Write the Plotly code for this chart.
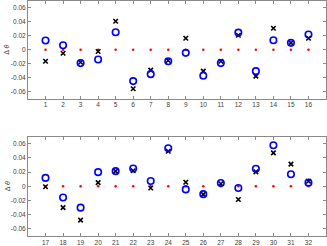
import plotly.graph_objects as go

idx_top = list(range(1, 17))
idx_bot = list(range(17, 33))

blue_top = [0.0133, 0.0066, -0.019, -0.0139, 0.0252, -0.0448, -0.0348, -0.0163,
            -0.0043, -0.0371, -0.019, 0.0247, -0.0305, 0.0137, 0.010, 0.0219]
black_top = [-0.0163, -0.0049, -0.0177, -0.0024, 0.041, -0.0557, -0.029, -0.0153,
             0.0166, -0.0305, -0.0163, 0.0209, -0.0377, 0.0309, 0.010, 0.0166]
blue_bot = [0.0119, -0.0157, -0.030, 0.020, 0.0214, 0.0252, 0.0076, 0.0538,
            -0.0043, -0.011, 0.0047, -0.0024, 0.0247, 0.058, 0.0171, 0.0052]
black_bot = [-0.0005, -0.030, -0.0477, 0.0052, 0.0214, 0.0219, -0.0024, 0.0495,
             0.0057, -0.0113, 0.0037, -0.0186, 0.0204, 0.0471, 0.0314, 0.0071]
ref_top = [0.0] * 16
ref_bot = [0.0] * 16

ytickvals = [-0.06, -0.04, -0.02, 0, 0.02, 0.04, 0.06]
yticktext = ["-0.06", "-0.04", "-0.02", "0", "0.02", "0.04", "0.06"]

FONT = "Liberation Sans, Arial"
fig = go.Figure()

def add_panel(xs, ref, black, blue, xa, ya):
    fig.add_trace(go.Scatter(x=xs, y=ref, mode="markers", xaxis=xa, yaxis=ya,
                             marker=dict(color="red", size=2.5, symbol="circle"),
                             showlegend=False, cliponaxis=False))
    fig.add_trace(go.Scatter(x=xs, y=black, mode="markers", xaxis=xa, yaxis=ya,
                             marker=dict(color="black", size=4.5, symbol="x-thin-open",
                                         line=dict(color="black", width=1.6)),
                             showlegend=False, cliponaxis=False))
    fig.add_trace(go.Scatter(x=xs, y=blue, mode="markers", xaxis=xa, yaxis=ya,
                             marker=dict(color="#0000ff", size=6.5, symbol="circle-open",
                                         line=dict(color="#0000ff", width=1.6)),
                             showlegend=False, cliponaxis=False))

add_panel(idx_top, ref_top, black_top, blue_top, "x", "y")
add_panel(idx_bot, ref_bot, black_bot, blue_bot, "x2", "y2")

axis_common = dict(showline=True, linecolor="#8a8a8a", linewidth=1, mirror="ticks",
                   ticks="inside", ticklen=3, tickcolor="#8a8a8a", showgrid=False,
                   zeroline=False, automargin=False,
                   tickfont=dict(family=FONT, size=6.5, color="#404040"))

fig.update_layout(
    width=327, height=246,
    margin=dict(l=28, r=1, t=1, b=10),
    paper_bgcolor="white", plot_bgcolor="white",
    xaxis=dict(domain=[0, 1], range=[0, 17], tickvals=idx_top,
               ticktext=[str(v) for v in idx_top], anchor="y", **axis_common),
    yaxis=dict(domain=[0.5843, 1], range=[-0.07, 0.07], tickvals=ytickvals,
               ticktext=yticktext, anchor="x", **axis_common),
    xaxis2=dict(domain=[0, 1], range=[16, 33], tickvals=idx_bot,
                ticktext=[str(v) for v in idx_bot], anchor="y2", **axis_common),
    yaxis2=dict(domain=[0, 0.4226], range=[-0.07, 0.07], tickvals=ytickvals,
                ticktext=yticktext, anchor="x2", **axis_common),
)

for yc in [(0.5843 + 1) / 2, 0.4226 / 2]:
    fig.add_annotation(text="Δ <i>θ</i>", xref="paper", yref="paper",
                       x=-21 / 298, y=yc, xanchor="center", yanchor="middle",
                       textangle=-90, showarrow=False,
                       font=dict(family=FONT, size=7, color="#404040"))

fig.write_html("out.html", config={"displayModeBar": False},
               post_script="document.body.style.margin='0';document.body.style.overflow='hidden';")
